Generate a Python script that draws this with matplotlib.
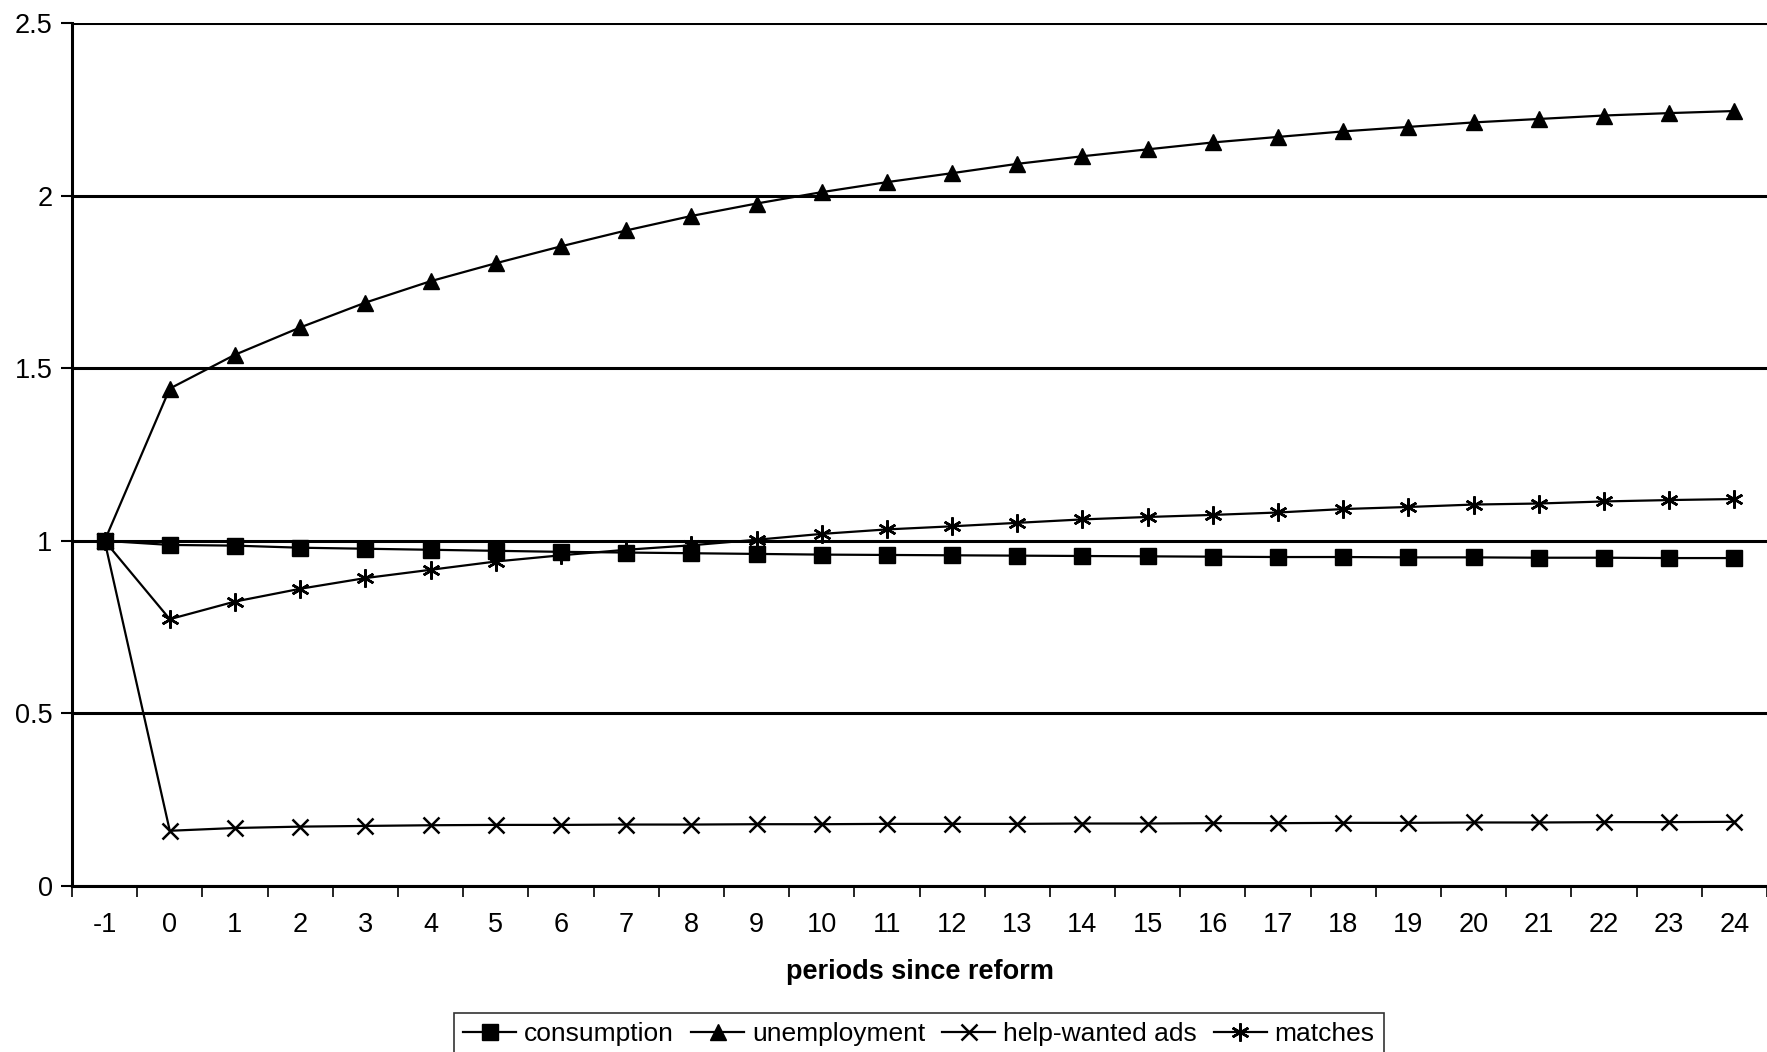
import numpy as np
import matplotlib
matplotlib.use("Agg")
from matplotlib import pyplot as plt

plt.rcParams['font.family'] = ['Liberation Sans', 'DejaVu Sans']
plt.rcParams['axes.unicode_minus'] = False

periods = list(range(-1, 25))

consumption = [1.0, 0.988, 0.986, 0.980, 0.977, 0.974, 0.971, 0.968, 0.966, 0.964, 0.962,
               0.960, 0.959, 0.958, 0.957, 0.956, 0.955, 0.954, 0.953, 0.953, 0.952,
               0.952, 0.951, 0.951, 0.950, 0.950]
unemployment = [1.0, 1.441, 1.539, 1.618, 1.690, 1.752, 1.804, 1.853, 1.899, 1.941, 1.977,
                2.010, 2.039, 2.065, 2.092, 2.114, 2.134, 2.154, 2.170, 2.186, 2.199,
                2.212, 2.222, 2.232, 2.239, 2.245]
help_wanted = [1.0, 0.160, 0.168, 0.172, 0.174, 0.176, 0.177, 0.177, 0.178, 0.178, 0.179,
               0.179, 0.180, 0.180, 0.180, 0.181, 0.181, 0.182, 0.182, 0.183, 0.183,
               0.184, 0.184, 0.185, 0.185, 0.186]
matches = [1.0, 0.773, 0.824, 0.861, 0.892, 0.916, 0.940, 0.958, 0.974, 0.987, 1.003,
           1.020, 1.033, 1.042, 1.052, 1.062, 1.069, 1.075, 1.082, 1.092, 1.098,
           1.105, 1.108, 1.114, 1.118, 1.121]

series = [
    ("consumption", consumption, dict(marker="s", markersize=11)),
    ("unemployment", unemployment, dict(marker="^", markersize=12)),
    ("help-wanted ads", help_wanted, dict(marker="x", markersize=11, markeredgewidth=1.8)),
    ("matches", matches, dict(marker=(6, 2, 0), markersize=13, markeredgewidth=1.8)),
]

fig = plt.figure(figsize=(17.67, 10.52), dpi=100)
ax = fig.add_axes([72 / 1767, 1 - 886 / 1052, 1 - 72 / 1767, (886 - 23) / 1052])

for name, vals, style in series:
    ax.plot(periods, vals, color="black", linewidth=1.6, label=name, zorder=3, **style)

ax.set_xlim(-1.5, 24.5)
ax.set_ylim(0, 2.5)
ax.set_yticks([0, 0.5, 1, 1.5, 2, 2.5])
ax.set_yticklabels(["0", "0.5", "1", "1.5", "2", "2.5"])
ax.set_xticks(periods)
ax.set_xticks(np.arange(-1.5, 25, 1), minor=True)
ax.tick_params(axis="x", which="major", length=0, pad=19, labelsize=19.5)
ax.tick_params(axis="x", which="minor", length=8, width=1.2, direction="out")
ax.tick_params(axis="y", length=8, width=1.5, direction="out", labelsize=19.5, pad=6)

ax.yaxis.grid(True, color="black", linewidth=2.2)
ax.set_axisbelow(True)
for side in ("right", "top"):
    ax.spines[side].set_visible(False)
ax.spines["left"].set_linewidth(2.2)
ax.spines["bottom"].set_linewidth(2.2)

ax.set_xlabel("periods since reform", fontsize=19.5, fontweight="bold", labelpad=15)

leg = fig.legend(loc="upper center", bbox_to_anchor=(919 / 1767, 1 - 1013 / 1052), ncol=4,
                 fontsize=19, frameon=True, fancybox=False, edgecolor="black",
                 handlelength=2.0, handletextpad=0.3, columnspacing=0.65,
                 borderpad=0.35, borderaxespad=0)
leg.get_frame().set_linewidth(1.2)

fig.savefig("out.png", dpi=100, facecolor="white")
